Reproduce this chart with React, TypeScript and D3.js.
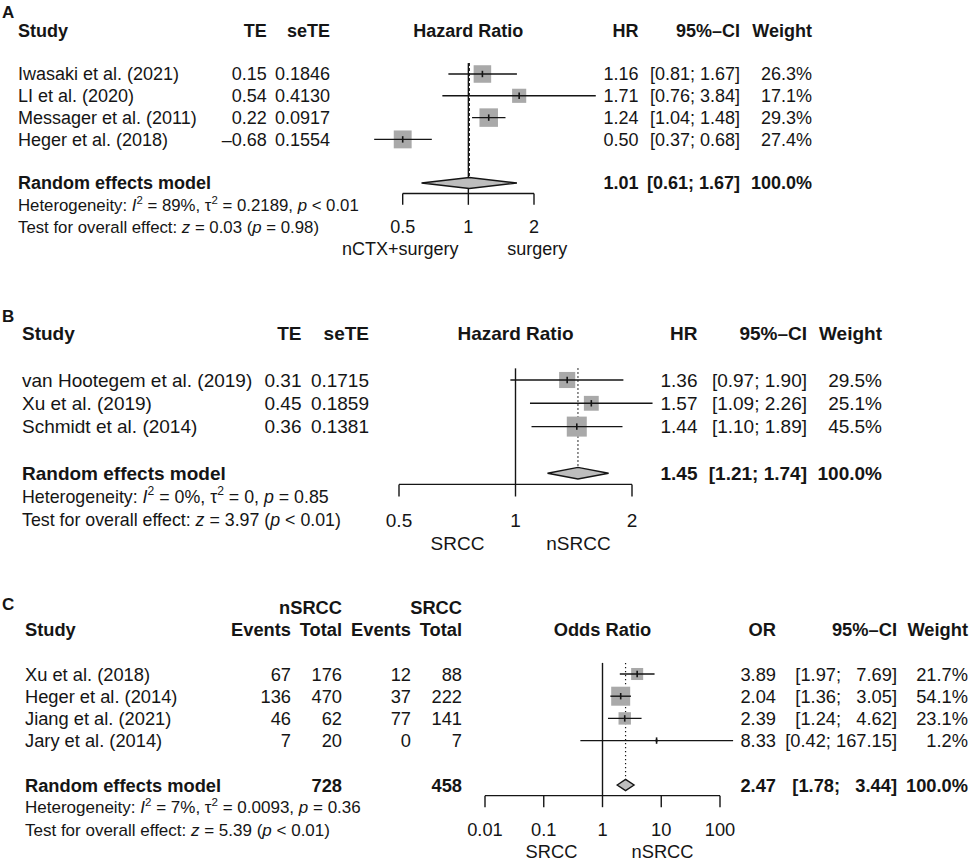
import React from "react";
import * as d3 from "d3";

const FONT = "'Liberation Sans', Arial, Helvetica, sans-serif";
const INK = "#151515";

// ---------- Panel A ----------
const studiesA = ["Iwasaki et al. (2021)", "LI et al. (2020)", "Messager et al. (2011)", "Heger et al. (2018)"];
const teA = [0.15, 0.54, 0.22, -0.68];
const seteA = [0.1846, 0.413, 0.0917, 0.1554];
const hrA = [1.16, 1.71, 1.24, 0.5];
const lowerA = [0.81, 0.76, 1.04, 0.37];
const upperA = [1.67, 3.84, 1.48, 0.68];
const weightA = [26.3, 17.1, 29.3, 27.4];
const pooledA = [1.01, 0.61, 1.67];
const ticksA = [0.5, 1, 2];
const sidesA = ["nCTX+surgery", "surgery"];
const hetA = { i2: "89%", tau2: "0.2189", p: "< 0.01", z: "0.03", pz: "= 0.98" };

// ---------- Panel B ----------
const studiesB = ["van Hootegem et al. (2019)", "Xu et al. (2019)", "Schmidt et al. (2014)"];
const teB = [0.31, 0.45, 0.36];
const seteB = [0.1715, 0.1859, 0.1381];
const hrB = [1.36, 1.57, 1.44];
const lowerB = [0.97, 1.09, 1.1];
const upperB = [1.9, 2.26, 1.89];
const weightB = [29.5, 25.1, 45.5];
const pooledB = [1.45, 1.21, 1.74];
const ticksB = [0.5, 1, 2];
const sidesB = ["SRCC", "nSRCC"];
const hetB = { i2: "0%", tau2: "0", p: "= 0.85", z: "3.97", pz: "< 0.01" };

// ---------- Panel C ----------
const studiesC = ["Xu et al. (2018)", "Heger et al. (2014)", "Jiang et al. (2021)", "Jary et al. (2014)"];
const eventsNC = [67, 136, 46, 7];
const totalNC = [176, 470, 62, 20];
const eventsSC = [12, 37, 77, 0];
const totalSC = [88, 222, 141, 7];
const totalsC = [728, 458];
const orC = [3.89, 2.04, 2.39, 8.33];
const lowerC = [1.97, 1.36, 1.24, 0.42];
const upperC = [7.69, 3.05, 4.62, 167.15];
const weightC = [21.7, 54.1, 23.1, 1.2];
const pooledC = [2.47, 1.78, 3.44];
const ticksC = [0.01, 0.1, 1, 10, 100];
const sidesC = ["SRCC", "nSRCC"];
const hetC = { i2: "7%", tau2: "0.0093", p: "= 0.36", z: "5.39", pz: "< 0.01" };

// ---------- helpers ----------
const fmt2 = (v: number) => v.toFixed(2);
const fmtTE = (v: number) => (v < 0 ? "\u2013" : "") + Math.abs(v).toFixed(2);
const fmtW = (v: number) => v.toFixed(1) + "%";
function fmtCI(lo: number[], hi: number[]) {
  const L = lo.map(fmt2);
  const H = hi.map(fmt2);
  const wl = d3.max(L, (s) => s.length) as number;
  const wh = d3.max(H, (s) => s.length) as number;
  return L.map((l, i) => `[${l.padStart(wl)}; ${H[i].padStart(wh)}]`);
}

type Seg = { t: string; it?: boolean; sup?: boolean };
function hetSegs(h: any): Seg[] {
  return [
    { t: "Heterogeneity: " },
    { t: "I", it: true },
    { t: "2", sup: true },
    { t: ` = ${h.i2}, \u03c4` },
    { t: "2", sup: true },
    { t: ` = ${h.tau2}, ` },
    { t: "p", it: true },
    { t: ` ${h.p}` },
  ];
}
function testSegs(h: any): Seg[] {
  return [
    { t: "Test for overall effect: " },
    { t: "z", it: true },
    { t: ` = ${h.z} (` },
    { t: "p", it: true },
    { t: ` ${h.pz})` },
  ];
}

function Rich({ x, y, fs, segs }: { x: number; y: number; fs: number; segs: Seg[] }) {
  let shifted = false;
  const kids = segs.map((s, i) => {
    let dy: number | undefined;
    if (s.sup && !shifted) {
      dy = -0.42 * fs;
      shifted = true;
    } else if (!s.sup && shifted) {
      dy = 0.42 * fs;
      shifted = false;
    }
    return (
      <tspan key={i} dy={dy} fontStyle={s.it ? "italic" : undefined} fontSize={s.sup ? fs * 0.68 : undefined}>
        {s.t}
      </tspan>
    );
  });
  return (
    <text x={x} y={y} dy="0.36em" fontSize={fs} fill={INK} style={{ whiteSpace: "pre" }}>
      {kids}
    </text>
  );
}

type Col = { x: number; header: string; cells: string[]; re: string; top?: string };

interface PanelProps {
  label: string;
  labelY: number;
  fs: number;
  hfs: number;
  y0: number;
  step: number;
  range: [number, number];
  ticks: number[];
  title: string;
  studies: string[];
  studyX: number;
  cols: Col[];
  est: number[];
  lo: number[];
  hi: number[];
  w: number[];
  pooled: number[];
  sqMax: number;
  refDash: string;
  sides: string[];
  sideOff: [number, number];
  het: Seg[];
  test: Seg[];
}

function Panel(p: PanelProps) {
  const n = p.est.length;
  const row = d3.scaleLinear().domain([0, 1]).range([p.y0, p.y0 + p.step]);
  const x = d3
    .scaleLog()
    .domain([p.ticks[0], p.ticks[p.ticks.length - 1]])
    .range(p.range);
  const reIdx = n + 1;
  const reY = row(reIdx);
  const axisY = reY + p.step * 0.48;
  const tickLen = p.step * 0.52;
  const wmax = d3.max(p.w) as number;
  const dh = p.step * 0.25;
  const x1 = x(1);
  const midX = (p.range[0] + p.range[1]) / 2;
  const txt = (
    key: string,
    xx: number,
    yy: number,
    s: string,
    anchor: string,
    bold = false,
    fs = p.fs
  ) => (
    <text
      key={key}
      x={xx}
      y={yy}
      dy="0.36em"
      textAnchor={anchor as any}
      fontSize={fs}
      fontWeight={bold ? "bold" : "normal"}
      fill={INK}
      style={{ whiteSpace: "pre" }}
    >
      {s}
    </text>
  );

  return (
    <g>
      <text x={2} y={p.labelY} fontSize={17} fontWeight="bold" fill={INK}>
        {p.label}
      </text>
      {txt("hs", p.studyX, row(-2), "Study", "start", true)}
      {txt("ht", midX, row(-2), p.title, "middle", true)}
      {p.cols.map((c, i) => (
        <g key={"c" + i}>
          {c.top ? txt("top" + i, c.x, row(-3), c.top, "end", true) : null}
          {txt("h" + i, c.x, row(-2), c.header, "end", true)}
          {c.cells.map((s, j) => txt(`v${i}-${j}`, c.x, row(j), s, "end"))}
          {c.re ? txt("re" + i, c.x, reY, c.re, "end", true) : null}
        </g>
      ))}
      {p.studies.map((s, j) => txt("s" + j, p.studyX, row(j), s, "start"))}
      {txt("rem", p.studyX, reY, "Random effects model", "start", true)}
      <Rich x={p.studyX} y={row(reIdx + 1)} fs={p.hfs} segs={p.het} />
      <Rich x={p.studyX} y={row(reIdx + 2)} fs={p.hfs} segs={p.test} />

      <line x1={x1} x2={x1} y1={row(-0.5)} y2={axisY} stroke={INK} strokeWidth={1.4} />
      <line
        x1={x(p.pooled[0])}
        x2={x(p.pooled[0])}
        y1={row(-0.5)}
        y2={reY - dh}
        stroke={INK}
        strokeWidth={1.2}
        strokeDasharray={p.refDash}
      />
      {p.est.map((e, j) => {
        const s = p.sqMax * Math.sqrt(p.w[j] / wmax);
        const cy = row(j);
        return (
          <g key={"m" + j}>
            <rect x={x(e) - s / 2} y={cy - s / 2} width={s} height={s} fill="#a9a9a9" />
            <line x1={x(p.lo[j])} x2={x(p.hi[j])} y1={cy} y2={cy} stroke={INK} strokeWidth={1.4} />
            <line x1={x(e)} x2={x(e)} y1={cy - 3.2} y2={cy + 3.2} stroke={INK} strokeWidth={1.6} />
          </g>
        );
      })}
      <polygon
        points={[
          [x(p.pooled[1]), reY],
          [x(p.pooled[0]), reY - dh],
          [x(p.pooled[2]), reY],
          [x(p.pooled[0]), reY + dh],
        ]
          .map((q) => q.join(","))
          .join(" ")}
        fill="#bdbdbd"
        stroke={INK}
        strokeWidth={1.4}
      />
      <line x1={x(p.ticks[0])} x2={x(p.ticks[p.ticks.length - 1])} y1={axisY} y2={axisY} stroke={INK} strokeWidth={1.4} />
      {p.ticks.map((t, i) => (
        <g key={"t" + i}>
          <line x1={x(t)} x2={x(t)} y1={axisY} y2={axisY + tickLen} stroke={INK} strokeWidth={1.4} />
          {txt("tl" + i, x(t), row(reIdx + 2), String(t), "middle")}
        </g>
      ))}
      {txt("sl", x1 + p.sideOff[0], row(reIdx + 3), p.sides[0], "middle")}
      {txt("sr", x1 + p.sideOff[1], row(reIdx + 3), p.sides[1], "middle")}
    </g>
  );
}

export default function App() {
  const ciA = fmtCI([...lowerA, pooledA[1]], [...upperA, pooledA[2]]);
  const ciB = fmtCI([...lowerB, pooledB[1]], [...upperB, pooledB[2]]);
  const ciC = fmtCI([...lowerC, pooledC[1]], [...upperC, pooledC[2]]);
  const nA = hrA.length,
    nB = hrB.length,
    nC = orC.length;

  return (
    <svg
      width={972}
      height={861}
      viewBox="0 0 972 861"
      style={{ position: "absolute", left: 0, top: 0, background: "#fff" }}
      fontFamily={FONT}
    >
      <rect width={972} height={861} fill="#fff" />
      <Panel
        label="A"
        labelY={17.5}
        fs={18}
        hfs={16.8}
        y0={74}
        step={21.8}
        range={[402.7, 534]}
        ticks={ticksA}
        title="Hazard Ratio"
        studies={studiesA}
        studyX={18}
        cols={[
          { x: 266.7, header: "TE", cells: teA.map(fmtTE), re: "" },
          { x: 330, header: "seTE", cells: seteA.map((v) => v.toFixed(4)), re: "" },
          { x: 638.5, header: "HR", cells: hrA.map(fmt2), re: fmt2(pooledA[0]) },
          { x: 740, header: "95%\u2013CI", cells: ciA.slice(0, nA), re: ciA[nA] },
          { x: 812, header: "Weight", cells: weightA.map(fmtW), re: "100.0%" },
        ]}
        est={hrA}
        lo={lowerA}
        hi={upperA}
        w={weightA}
        pooled={pooledA}
        sqMax={18.5}
        refDash="3,2"
        sides={sidesA}
        sideOff={[-68, 69]}
        het={hetSegs(hetA)}
        test={testSegs(hetA)}
      />
      <Panel
        label="B"
        labelY={321.7}
        fs={19}
        hfs={17.8}
        y0={380}
        step={23.3}
        range={[399, 632]}
        ticks={ticksB}
        title="Hazard Ratio"
        studies={studiesB}
        studyX={22}
        cols={[
          { x: 301.5, header: "TE", cells: teB.map(fmtTE), re: "" },
          { x: 369, header: "seTE", cells: seteB.map((v) => v.toFixed(4)), re: "" },
          { x: 697.5, header: "HR", cells: hrB.map(fmt2), re: fmt2(pooledB[0]) },
          { x: 807, header: "95%\u2013CI", cells: ciB.slice(0, nB), re: ciB[nB] },
          { x: 882, header: "Weight", cells: weightB.map(fmtW), re: "100.0%" },
        ]}
        est={hrB}
        lo={lowerB}
        hi={upperB}
        w={weightB}
        pooled={pooledB}
        sqMax={20}
        refDash="1.3,2.7"
        sides={sidesB}
        sideOff={[-58, 63]}
        het={hetSegs(hetB)}
        test={testSegs(hetB)}
      />
      <Panel
        label="C"
        labelY={610}
        fs={18.3}
        hfs={17}
        y0={674}
        step={22.2}
        range={[485, 720]}
        ticks={ticksC}
        title="Odds Ratio"
        studies={studiesC}
        studyX={25}
        cols={[
          { x: 291, header: "Events", cells: eventsNC.map(String), re: "" },
          { x: 342, header: "Total", cells: totalNC.map(String), re: String(totalsC[0]), top: "nSRCC" },
          { x: 411, header: "Events", cells: eventsSC.map(String), re: "" },
          { x: 462, header: "Total", cells: totalSC.map(String), re: String(totalsC[1]), top: "SRCC" },
          { x: 776, header: "OR", cells: orC.map(fmt2), re: fmt2(pooledC[0]) },
          { x: 897, header: "95%\u2013CI", cells: ciC.slice(0, nC), re: ciC[nC] },
          { x: 968, header: "Weight", cells: weightC.map(fmtW), re: "100.0%" },
        ]}
        est={orC}
        lo={lowerC}
        hi={upperC}
        w={weightC}
        pooled={pooledC}
        sqMax={19}
        refDash="1.3,2.7"
        sides={sidesC}
        sideOff={[-51, 60]}
        het={hetSegs(hetC)}
        test={testSegs(hetC)}
      />
    </svg>
  );
}
